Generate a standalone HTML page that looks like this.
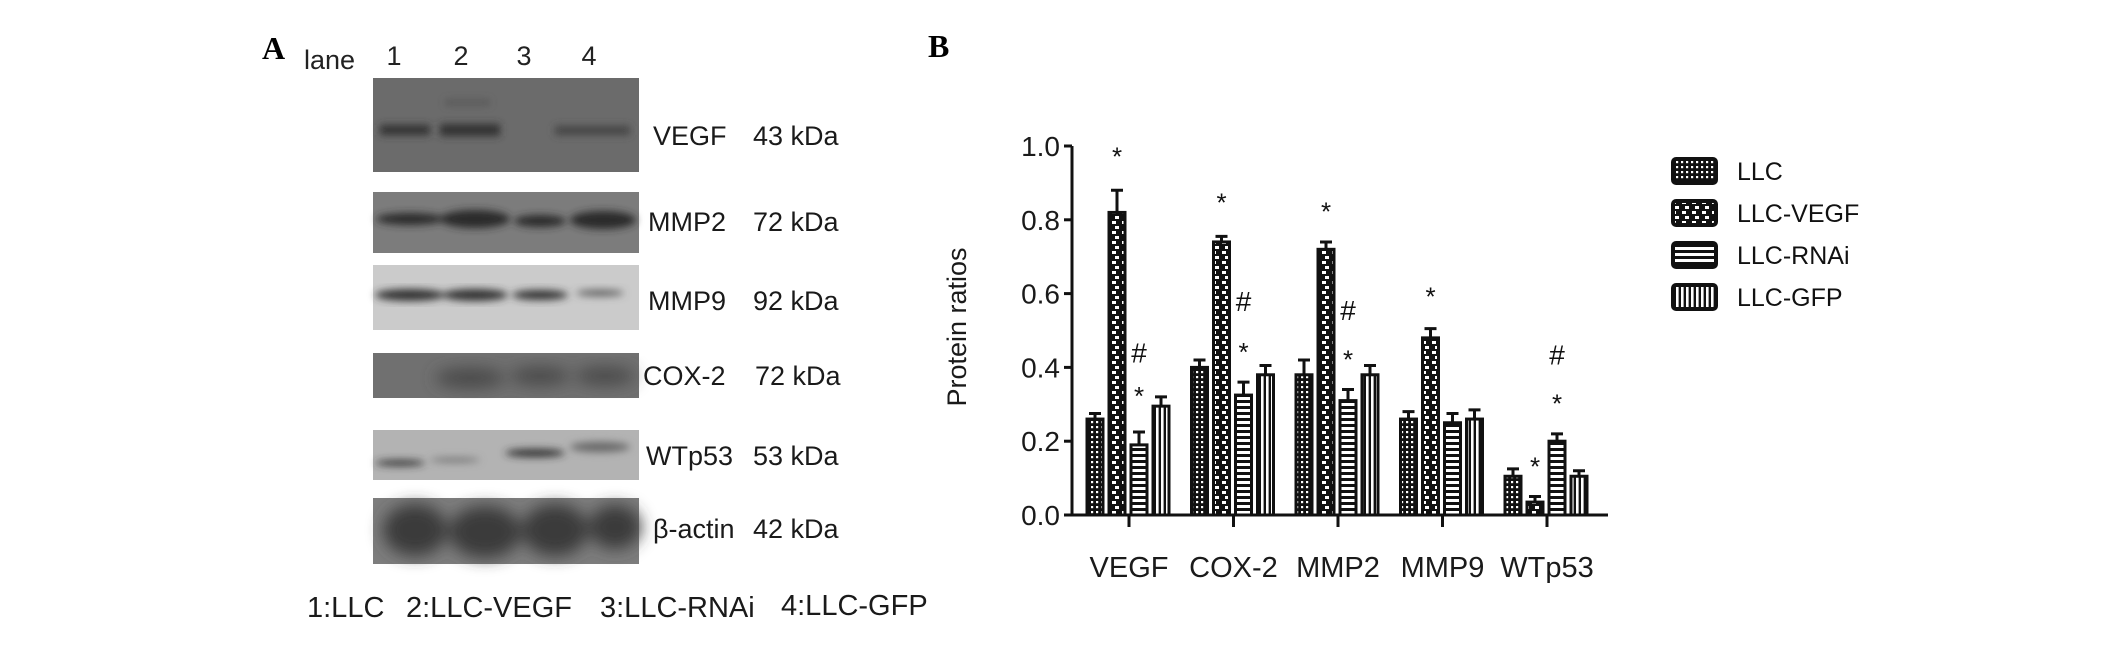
<!DOCTYPE html>
<html><head><meta charset="utf-8">
<style>
body{margin:0;background:#fff;}
svg{display:block;font-family:"Liberation Sans",sans-serif;}
</style></head>
<body>
<svg id="fig" width="2126" height="655" viewBox="0 0 2126 655" xmlns="http://www.w3.org/2000/svg">
<defs>
  <filter id="blur4" x="-20%" y="-50%" width="140%" height="200%"><feGaussianBlur stdDeviation="4"/></filter>
  <filter id="blur8" x="-20%" y="-50%" width="140%" height="200%"><feGaussianBlur stdDeviation="8"/></filter>
  <pattern id="p-llc" width="5" height="5" patternUnits="userSpaceOnUse">
    <rect width="5" height="5" fill="#111"/><rect x="1" y="1" width="2.2" height="2.2" fill="#fff"/>
  </pattern>
  <pattern id="p-vegf" width="10" height="10" patternUnits="userSpaceOnUse">
    <rect width="10" height="10" fill="#111"/><rect x="2" y="1" width="4" height="3" fill="#fff"/><rect x="5" y="6" width="4" height="3" fill="#fff"/>
  </pattern>
  <pattern id="p-rnai" width="6" height="6" patternUnits="userSpaceOnUse">
    <rect width="6" height="6" fill="#111"/><rect y="1" width="6" height="3" fill="#fff"/>
  </pattern>
  <pattern id="p-gfp" width="5" height="6" patternUnits="userSpaceOnUse">
    <rect width="5" height="6" fill="#111"/><rect x="1" width="2.6" height="6" fill="#fff"/>
  </pattern>
</defs>

<!-- Panel A -->
<g>
  <text x="262" y="59" font-family="Liberation Serif,serif" font-weight="bold" font-size="32">A</text>
  <text x="304" y="69" font-size="27" fill="#222">lane</text>
  <g font-size="27" fill="#222" text-anchor="middle">
    <text x="394" y="65">1</text><text x="461" y="65">2</text><text x="524" y="65">3</text><text x="589" y="65">4</text>
  </g>

  <g>
    <rect x="373" y="78" width="266" height="94" fill="#6b6b6b"/>
    <g filter="url(#blur4)" fill="#333">
      <rect x="380" y="125" width="50" height="10"/><rect x="440" y="124" width="60" height="12"/><rect x="555" y="126" width="75" height="9" fill="#444"/>
      <rect x="445" y="100" width="45" height="5" fill="#555"/>
    </g>
  </g>
  <g>
    <rect x="373" y="192" width="266" height="61" fill="#7c7c7c"/>
    <g filter="url(#blur4)" fill="#2a2a2a">
      <ellipse cx="410" cy="219" rx="34" ry="6"/><ellipse cx="475" cy="219" rx="35" ry="9"/><ellipse cx="540" cy="221" rx="26" ry="6"/><ellipse cx="603" cy="220" rx="33" ry="9"/>
    </g>
  </g>
  <g>
    <rect x="373" y="265" width="266" height="65" fill="#cbcbcb"/>
    <g filter="url(#blur4)" fill="#333">
      <ellipse cx="410" cy="295" rx="35" ry="6"/><ellipse cx="475" cy="295" rx="33" ry="6"/><ellipse cx="540" cy="295" rx="28" ry="5"/><ellipse cx="600" cy="293" rx="24" ry="3" fill="#555"/>
    </g>
  </g>
  <g>
    <rect x="373" y="353" width="266" height="45" fill="#707070"/>
    <g filter="url(#blur8)" fill="#4a4a4a">
      <ellipse cx="470" cy="378" rx="35" ry="10"/><ellipse cx="540" cy="376" rx="30" ry="9"/><ellipse cx="605" cy="376" rx="30" ry="9"/>
    </g>
  </g>
  <g>
    <rect x="373" y="430" width="266" height="50" fill="#b3b3b3"/>
    <g filter="url(#blur4)" fill="#2f2f2f">
      <ellipse cx="400" cy="463" rx="25" ry="3"/><ellipse cx="455" cy="460" rx="25" ry="2" fill="#666"/><ellipse cx="535" cy="453" rx="30" ry="4"/><ellipse cx="600" cy="447" rx="30" ry="5" fill="#666"/>
    </g>
  </g>
  <g>
    <rect x="373" y="498" width="266" height="66" fill="#7d7d7d"/>
    <g filter="url(#blur8)" fill="#3a3a3a">
      <ellipse cx="415" cy="530" rx="32" ry="26"/><ellipse cx="485" cy="532" rx="36" ry="26"/><ellipse cx="555" cy="530" rx="33" ry="26"/><ellipse cx="615" cy="527" rx="26" ry="22"/>
    </g>
  </g>

  <g font-size="27" fill="#1a1a1a" dominant-baseline="middle">
    <text x="653" y="138">VEGF</text><text x="753" y="138">43 kDa</text>
    <text x="648" y="224">MMP2</text><text x="753" y="224">72 kDa</text>
    <text x="648" y="303">MMP9</text><text x="753" y="303">92 kDa</text>
    <text x="643" y="378">COX-2</text><text x="755" y="378">72 kDa</text>
    <text x="646" y="458">WTp53</text><text x="753" y="458">53 kDa</text>
    <text x="653" y="531">β-actin</text><text x="753" y="531">42 kDa</text>
  </g>
  <g font-size="29" fill="#1a1a1a">
    <text x="307" y="617">1:LLC</text><text x="406" y="617">2:LLC-VEGF</text><text x="600" y="617">3:LLC-RNAi</text><text x="781" y="615">4:LLC-GFP</text>
  </g>
</g>

<!-- Panel B -->
<text x="928" y="57" font-family="Liberation Serif,serif" font-weight="bold" font-size="32">B</text>
<g id="chart"></g>
<g font-size="25" fill="#111">
  <g><rect x="1673" y="159" width="43" height="24" rx="3" fill="url(#p-llc)" stroke="#111" stroke-width="4"/><text x="1737" y="180">LLC</text></g>
  <g><rect x="1673" y="201" width="43" height="24" rx="3" fill="url(#p-vegf)" stroke="#111" stroke-width="4"/><text x="1737" y="222">LLC-VEGF</text></g>
  <g><rect x="1673" y="243" width="43" height="24" rx="3" fill="url(#p-rnai)" stroke="#111" stroke-width="4"/><text x="1737" y="264">LLC-RNAi</text></g>
  <g><rect x="1673" y="285" width="43" height="24" rx="3" fill="url(#p-gfp)" stroke="#111" stroke-width="4"/><text x="1737" y="306">LLC-GFP</text></g>
</g>
</svg>
<script>
const categories = ["VEGF","COX-2","MMP2","MMP9","WTp53"];
const seriesNames = ["LLC","LLC-VEGF","LLC-RNAi","LLC-GFP"];
const llcValues = [0.26,0.40,0.38,0.26,0.105];
const vegfValues = [0.82,0.74,0.72,0.48,0.035];
const rnaiValues = [0.19,0.325,0.31,0.25,0.20];
const gfpValues = [0.295,0.38,0.38,0.26,0.105];
const llcErr = [0.015,0.02,0.04,0.02,0.02];
const vegfErr = [0.06,0.015,0.02,0.025,0.015];
const rnaiErr = [0.035,0.035,0.03,0.025,0.02];
const gfpErr = [0.025,0.025,0.025,0.025,0.015];
const yTicks = [0.0,0.2,0.4,0.6,0.8,1.0];
const yTickLabels = ["0.0","0.2","0.4","0.6","0.8","1.0"];
const annCategory = [0,0,0,1,1,1,2,2,2,3,4,4,4];
const annSeries   = [1,2,2,1,2,2,1,2,2,1,1,2,2];
const annText     = ["*","#","*","*","#","*","*","#","*","*","*","#","*"];
const annValue    = [0.98,0.44,0.33,0.855,0.58,0.45,0.83,0.555,0.43,0.60,0.14,0.435,0.31];

const NS="http://www.w3.org/2000/svg";
const chart=document.getElementById('chart');
const X0=1072, X1=1608, Y0=515, YH=369;
function yScale(v){return Y0 - v*YH;}
function xCenter(i){return 1129 + i*104.5;}
function barLeft(i,j){return xCenter(i) - 42 + j*22;}
const BW=16;
function mk(tag,attrs){const e=document.createElementNS(NS,tag);for(const k in attrs)e.setAttribute(k,attrs[k]);chart.appendChild(e);return e;}

const allVals=[llcValues,vegfValues,rnaiValues,gfpValues];
const allErr=[llcErr,vegfErr,rnaiErr,gfpErr];
const fills=["url(#p-llc)","url(#p-vegf)","url(#p-rnai)","url(#p-gfp)"];

let e=mk('line',{x1:X0,y1:yScale(0),x2:X0,y2:yScale(1),stroke:'#111','stroke-width':3});


e=mk('line',{x1:X0-8,y1:Y0,x2:X1,y2:Y0,stroke:'#111','stroke-width':3});


yTicks.forEach((t,k)=>{
  let l=mk('line',{x1:X0-8,y1:yScale(t),x2:X0,y2:yScale(t),stroke:'#111','stroke-width':3});
  
  
  let tx=mk('text',{x:X0-12,y:yScale(t)+10,'text-anchor':'end','font-size':28,fill:'#1a1a1a'});
  tx.textContent=yTickLabels[k];
  
  
});
let yt=mk('text',{x:0,y:0,'text-anchor':'middle','font-size':27,fill:'#1a1a1a',transform:'translate(966,327) rotate(-90)'});
yt.textContent='Protein ratios';



categories.forEach((c,i)=>{
  let l=mk('line',{x1:xCenter(i),y1:Y0,x2:xCenter(i),y2:Y0+12,stroke:'#111','stroke-width':3});
  
  
  let tx=mk('text',{x:xCenter(i),y:577,'text-anchor':'middle','font-size':29,fill:'#1a1a1a'});
  tx.textContent=c;
  
  
  allVals.forEach((vals,j)=>{
    const v=vals[i], er=allErr[j][i], x=barLeft(i,j);
    let ebar=mk('path',{d:`M${x+BW/2},${yScale(v)} V${yScale(v+er)} M${x+BW/2-6},${yScale(v+er)} H${x+BW/2+6}`,stroke:'#111','stroke-width':3,fill:'none'});
    
    
    let r=mk('rect',{x:x,y:yScale(v),width:BW,height:Y0-yScale(v),fill:fills[j],stroke:'#111','stroke-width':3});
    
    
  });
});
annText.forEach((t,k)=>{
  const x=barLeft(annCategory[k],annSeries[k])+BW/2;
  let tx=mk('text',{x:x,y:yScale(annValue[k])+(t==='*'?12:10),'text-anchor':'middle','font-size':t==='*'?26:28,fill:'#111'});
  tx.textContent=t;
  
  
});
</script>
</body></html>
